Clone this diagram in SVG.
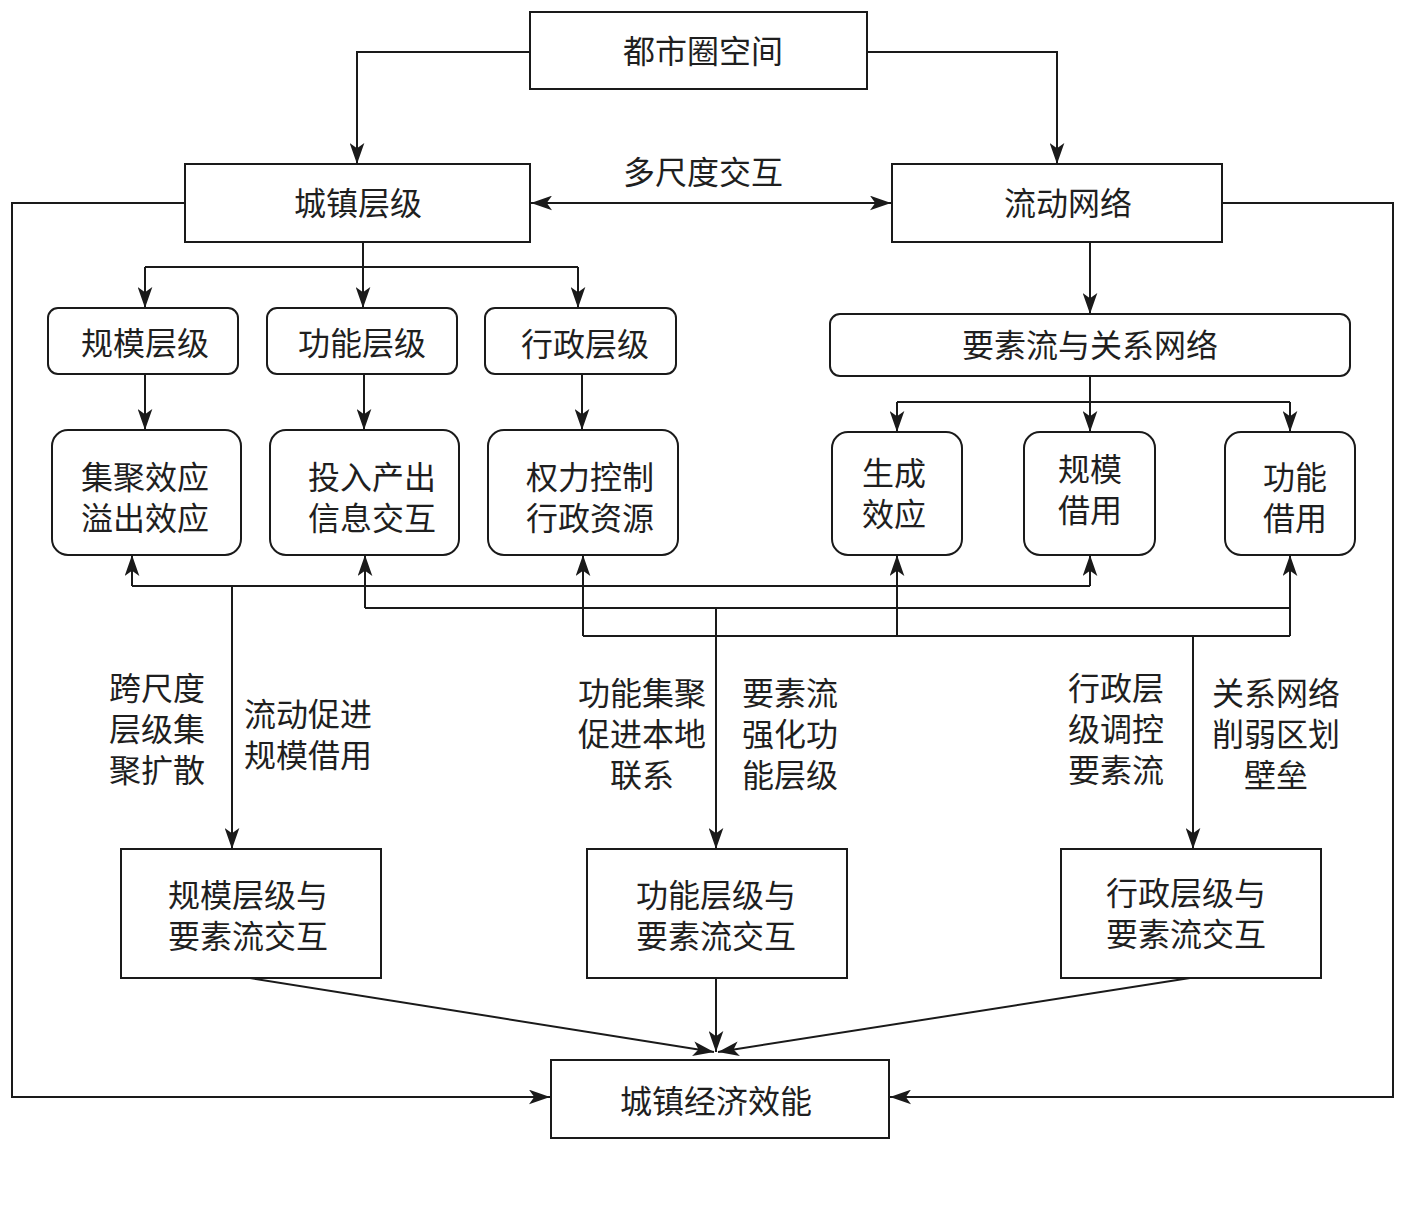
<svg xmlns="http://www.w3.org/2000/svg" width="1416" height="1211" viewBox="0 0 1416 1211">
<defs>
<marker id="ah" viewBox="0 0 20 14" refX="20" refY="7" markerWidth="21" markerHeight="15" markerUnits="userSpaceOnUse" orient="auto-start-reverse">
<path d="M0,0 L20,7 L0,14 L5,7 Z" fill="#1a1a1a"/>
</marker>
<style>
.box{fill:#fff;stroke:#1a1a1a;stroke-width:2}
.t{font-family:"Noto Sans CJK SC","Noto Sans",sans-serif;font-size:32px;fill:#1f1f1f;text-anchor:middle;dominant-baseline:central}
.c{fill:none;stroke:#1a1a1a;stroke-width:2}
.a{fill:none;stroke:#1a1a1a;stroke-width:2;marker-end:url(#ah)}
</style>
</defs>
<rect width="1416" height="1211" fill="#fff"/>
<g id="connectors">
<path class="a" d="M530,52 H357 V164"/>
<path class="a" d="M867,52 H1057 V164"/>
<path class="a" d="M531,203 H891" marker-start="url(#ah)"/>
<path class="a" d="M185,203 H12 V1097 H550"/>
<path class="a" d="M1222,203 H1393 V1097 H890"/>
<path class="c" d="M363,242 V267 M145,267 H578"/>
<path class="a" d="M145,267 V308"/>
<path class="a" d="M363,267 V308"/>
<path class="a" d="M578,267 V308"/>
<path class="a" d="M145,374 V430"/>
<path class="a" d="M364,374 V430"/>
<path class="a" d="M582,374 V430"/>
<path class="a" d="M1090,242 V314"/>
<path class="c" d="M897,402 H1290"/>
<path class="a" d="M1090,376 V432"/>
<path class="a" d="M897,402 V432"/>
<path class="a" d="M1290,402 V432"/>
<path class="c" d="M132,586 H1090 M365,608 H1290 M583,636 H1290"/>
<path class="a" d="M132,586 V555"/>
<path class="a" d="M1090,586 V555"/>
<path class="a" d="M365,608 V555"/>
<path class="a" d="M583,636 V555"/>
<path class="a" d="M897,636 V555"/>
<path class="a" d="M1290,636 V555"/>
<path class="a" d="M232,586 V849"/>
<path class="a" d="M716,608 V849"/>
<path class="a" d="M1193,636 V849"/>
<path class="a" d="M250,978 L714,1052"/>
<path class="a" d="M716,978 V1052"/>
<path class="a" d="M1190,978 L718,1052"/>
</g>
<g id="n-dushi"><rect class="box" x="530" y="12" width="337" height="77"/><text class="t" x="703" y="49">都市圈空间</text></g>
<g id="n-chengzhen"><rect class="box" x="185" y="164" width="345" height="78"/><text class="t" x="358" y="201">城镇层级</text></g>
<g id="n-liudong"><rect class="box" x="892" y="164" width="330" height="78"/><text class="t" x="1068" y="201">流动网络</text></g>
<text class="t" x="703" y="170">多尺度交互</text>
<g id="n-guimo"><rect class="box" x="48" y="308" width="190" height="66" rx="10"/><text class="t" x="145" y="341">规模层级</text></g>
<g id="n-gongneng"><rect class="box" x="267" y="308" width="190" height="66" rx="10"/><text class="t" x="362" y="341">功能层级</text></g>
<g id="n-xingzheng"><rect class="box" x="485" y="308" width="191" height="66" rx="10"/><text class="t" x="585" y="342">行政层级</text></g>
<g id="n-yaosu"><rect class="box" x="830" y="314" width="520" height="62" rx="10"/><text class="t" x="1090" y="343">要素流与关系网络</text></g>
<g id="n-jiju"><rect class="box" x="52" y="430" width="189" height="125" rx="16"/><text class="t" x="145" y="475">集聚效应<tspan x="145" dy="41">溢出效应</tspan></text></g>
<g id="n-touru"><rect class="box" x="270" y="430" width="189" height="125" rx="16"/><text class="t" x="372" y="475">投入产出<tspan x="372" dy="41">信息交互</tspan></text></g>
<g id="n-quanli"><rect class="box" x="488" y="430" width="190" height="125" rx="16"/><text class="t" x="590" y="475">权力控制<tspan x="590" dy="41">行政资源</tspan></text></g>
<g id="n-shengcheng"><rect class="box" x="832" y="432" width="130" height="123" rx="16"/><text class="t" x="894" y="471">生成<tspan x="894" dy="41">效应</tspan></text></g>
<g id="n-guimojie"><rect class="box" x="1024" y="432" width="131" height="123" rx="16"/><text class="t" x="1090" y="467">规模<tspan x="1090" dy="41">借用</tspan></text></g>
<g id="n-gongnengjie"><rect class="box" x="1225" y="432" width="130" height="123" rx="16"/><text class="t" x="1295" y="475">功能<tspan x="1295" dy="41">借用</tspan></text></g>
<g id="labels">
<text class="t" x="157" y="686">跨尺度<tspan x="157" dy="41">层级集</tspan><tspan x="157" dy="41">聚扩散</tspan></text>
<text class="t" x="308" y="712">流动促进<tspan x="308" dy="41">规模借用</tspan></text>
<text class="t" x="642" y="691">功能集聚<tspan x="642" dy="41">促进本地</tspan><tspan x="642" dy="41">联系</tspan></text>
<text class="t" x="790" y="691">要素流<tspan x="790" dy="41">强化功</tspan><tspan x="790" dy="41">能层级</tspan></text>
<text class="t" x="1116" y="686">行政层<tspan x="1116" dy="41">级调控</tspan><tspan x="1116" dy="41">要素流</tspan></text>
<text class="t" x="1276" y="691">关系网络<tspan x="1276" dy="41">削弱区划</tspan><tspan x="1276" dy="41">壁垒</tspan></text>
</g>
<g id="n-b1"><rect class="box" x="121" y="849" width="260" height="129"/><text class="t" x="248" y="893">规模层级与<tspan x="248" dy="41">要素流交互</tspan></text></g>
<g id="n-b2"><rect class="box" x="587" y="849" width="260" height="129"/><text class="t" x="716" y="893">功能层级与<tspan x="716" dy="41">要素流交互</tspan></text></g>
<g id="n-b3"><rect class="box" x="1061" y="849" width="260" height="129"/><text class="t" x="1186" y="891">行政层级与<tspan x="1186" dy="41">要素流交互</tspan></text></g>
<g id="n-xiaoneng"><rect class="box" x="551" y="1060" width="338" height="78"/><text class="t" x="716" y="1099">城镇经济效能</text></g>
</svg>
